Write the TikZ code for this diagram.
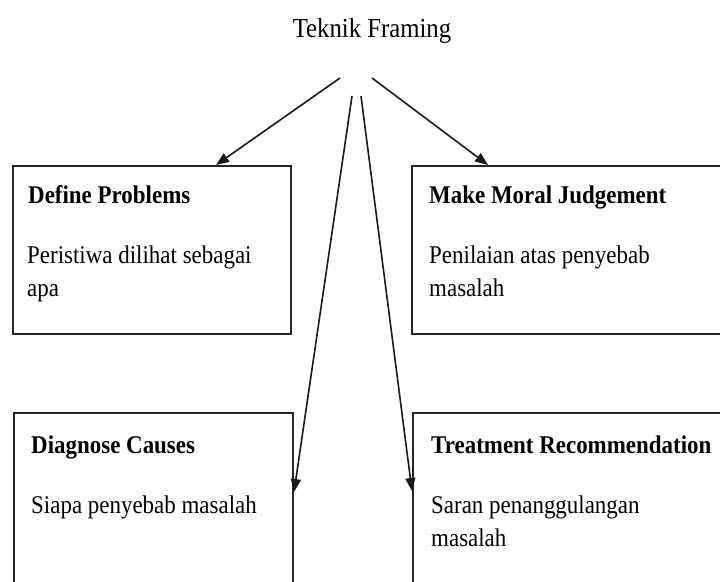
\documentclass[tikz,border=0pt]{standalone}
\usepackage{fontspec}
\setmainfont{Liberation Serif}
\usetikzlibrary{arrows.meta}
\newcommand\sqz[1]{\scalebox{0.9}[1]{#1}}
\begin{document}
\begin{tikzpicture}[x=1pt,y=-1pt,
  box/.style={draw=black!85, line width=2pt, rectangle, inner sep=0pt},
  head/.style={anchor=base west, inner sep=0pt, font=\fontsize{25.5}{33}\selectfont\bfseries},
  body/.style={anchor=base west, inner sep=0pt, align=left, font=\fontsize{25.5}{33}\selectfont},
  arr/.style={line width=1.6pt, draw=black!90, -{Triangle[length=13pt,width=10pt]}}]
\useasboundingbox (0,0) rectangle (720,581);
\clip (0,0) rectangle (720,581);
\fill[white] (0,0) rectangle (720,581);
% title
\node[anchor=base, inner sep=0pt, font=\fontsize{27.5}{30}\selectfont] (title) at (372,37) {\sqz{Teknik Framing}};
% boxes
\node[box, minimum width=278pt, minimum height=168pt] (dp) at (152,250) {};
\node[box, minimum width=313pt, minimum height=168pt] (mmj) at (568.5,250) {};
\node[box, minimum width=279pt, minimum height=187pt] (dc) at (153.5,506.5) {};
\node[box, minimum width=312pt, minimum height=187pt] (tr) at (569,506.5) {};
% texts (multi-line nodes: base is the last line)
\node[head] (dph) at (28,203) {\sqz{Define Problems}};
\node[body] (dpb) at (27,296) {\sqz{Peristiwa dilihat sebagai}\\\sqz{apa}};
\node[head] (mmjh) at (429,203) {\sqz{Make Moral Judgement}};
\node[body] (mmjb) at (429,296) {\sqz{Penilaian atas penyebab}\\\sqz{masalah}};
\node[head] (dch) at (31,453) {\sqz{Diagnose Causes}};
\node[body] (dcb) at (31,513) {\sqz{Siapa penyebab masalah}};
\node[head] (trh) at (431,453) {\sqz{Treatment Recommendation}};
\node[body] (trb) at (431,546) {\sqz{Saran penanggulangan}\\\sqz{masalah}};
% arrow origins
\coordinate (s1) at (340,78);
\coordinate (s2) at (372,78);
\coordinate (s3) at (352,96);
\coordinate (s4) at (361,96);
% arrows
\draw[arr] (s1) -- ([xshift=204pt]dp.north west);
\draw[arr] (s2) -- ([xshift=77pt]mmj.north west);
\draw[arr] (s3) -- ([yshift=-80pt]dc.north east);
\draw[arr] (s4) -- ([yshift=-79pt]tr.north west);
\end{tikzpicture}
\end{document}
